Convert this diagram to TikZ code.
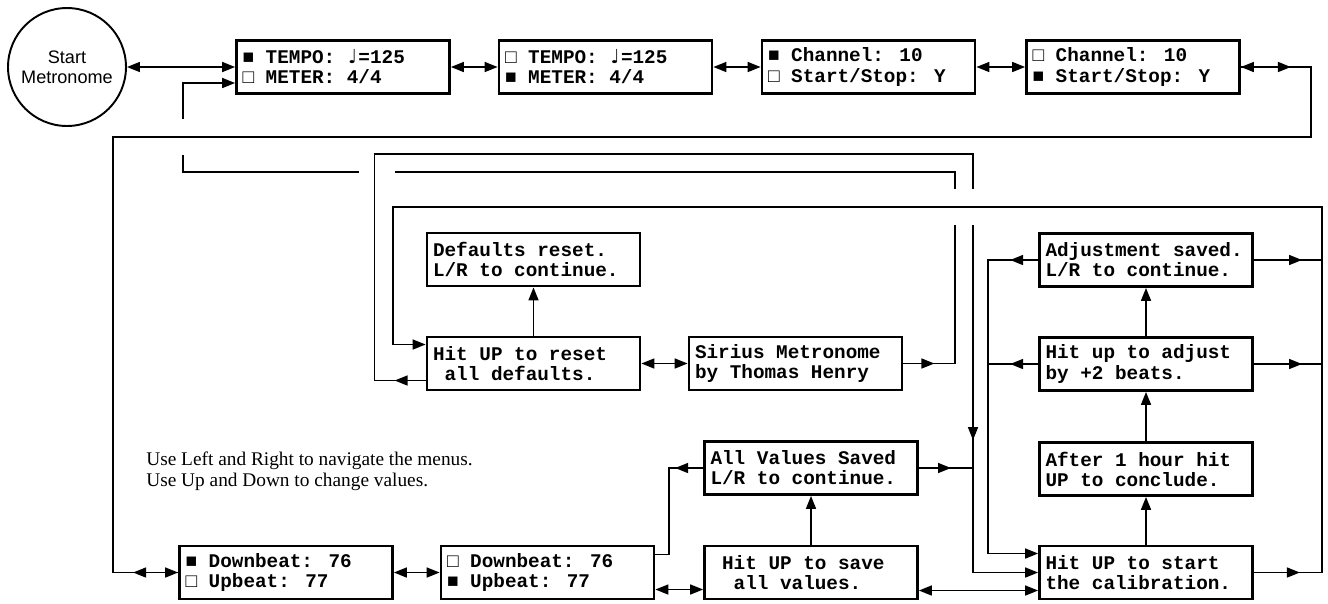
\documentclass[tikz,border=0pt]{standalone}
\usepackage{fontspec}
\setmainfont{Liberation Serif}
\newfontfamily\lcdfont{Liberation Mono}
\newfontfamily\circfont{Liberation Sans}
\newfontfamily\musicfont{DejaVu Sans}
\usetikzlibrary{arrows.meta,positioning,calc,decorations.markings}

\newcommand{\qnote}{\makebox[0.6em]{\musicfont ♩}}

\begin{document}
\begin{tikzpicture}[
  x=0.02cm, y=-0.02cm,
  lcd/.style={draw, line width=1.6pt, minimum width=4.26cm,
    minimum height=1.06cm, text width=4.02cm, align=flush left,
    inner xsep=0pt, font=\lcdfont\bfseries\fontsize{11}{11.4}\selectfont},
  bubble/.style={draw, circle, line width=1.1pt, minimum size=2.36cm,
    inner sep=0pt, align=center,
    font=\circfont\fontsize{10.3}{11.4}\selectfont},
  hint/.style={inner sep=0pt, align=left,
    font=\fontsize{11}{11.4}\selectfont},
  wire/.style={line width=0.9pt},
  arrow/.style={wire, -{Triangle[length=2.6mm, width=2mm]}},
  dblarrow/.style={wire,
    {Triangle[length=2.6mm, width=2mm]}-{Triangle[length=2.6mm, width=2mm]}},
  tipat/.style={postaction={decorate}, decoration={markings,
    mark=at position #1 with {\arrow{Triangle[length=2.6mm, width=2mm]}}}},
  hop/.style={draw=white, line width=4pt}
]
\useasboundingbox (0,0) rectangle (1328,603);

\node[bubble] (metro) at (67,67) {Start\\Metronome};
\node[lcd] (tempo) at (343,67) {■ TEMPO: \qnote=125\\□ METER: 4/4};
\node[lcd] (meter) at (605.5,67) {□ TEMPO: \qnote=125\\■ METER: 4/4};
\node[lcd] (chan) at (868.5,67) {■ Channel: 10\\□ Start/Stop: Y};
\node[lcd] (stst) at (1133,67) {□ Channel: 10\\■ Start/Stop: Y};

\node[lcd] (dflt) at (533.5,259.5) {Defaults reset.\\L/R to continue.};
\node[lcd] (reset) at (533.5,363.5) {Hit UP to reset\\~all defaults.};
\node[lcd] (sirius) at (795.5,363.5) {Sirius Metronome\\by Thomas Henry};

\node[lcd] (adjsaved) at (1146,260) {Adjustment saved.\\L/R to continue.};
\node[lcd] (adjust) at (1146,364) {Hit up to adjust\\by +2 beats.};
\node[lcd] (hour) at (1146,469) {After 1 hour hit\\UP to conclude.};
\node[lcd] (calib) at (1146,572.5) {Hit UP to start\\the calibration.};

\node[lcd] (saved) at (811,468) {All Values Saved\\L/R to continue.};
\node[lcd] (save) at (811,572.5) {~Hit UP to save\\~~all values.};
\node[lcd] (down) at (286,572.5) {■ Downbeat: 76\\□ Upbeat: 77};
\node[lcd] (up) at (547.5,572.5) {□ Downbeat: 76\\■ Upbeat: 77};

\node[hint, anchor=north west] (help) at (146,452)
  {Use Left and Right to navigate the menus.\\Use Up and Down to change values.};

% top menu row
\draw[dblarrow] (metro.east) -- (tempo.west);
\foreach \a/\b in {tempo/meter, meter/chan, chan/stst}
  \draw[dblarrow] (\a) -- (\b);

\coordinate (busA) at (955,172);
\coordinate (busB) at (973,154);
\coordinate (busC) at (988,260);
\coordinate (busD) at (1322,207);

% Sirius back to the first menu
\draw[arrow, tipat=0.62cm] (sirius.east) -- (sirius.east -| busA)
  |- (183,172) |- ($(tempo.west)+(0,16)$);
\draw[hop] (183,119) -- (183,155);
\draw[hop] (359,172) -- (395,172);
\draw[hop] (955,189) -- (955,225);

% reset over the top to the calibration
\draw[arrow, tipat=0.62cm] ($(reset.west)+(0,17)$) -- ++(-51,0)
  |- (busB) |- (calib.west);
\draw[hop] (973,189) -- (973,225);
\draw[arrow] ($(busB |- saved.north)+(0,-30)$) -- (busB |- saved.north);

% save menu
\draw[wire, tipat=-0.44cm] (saved.east) -- (saved.east -| busB);
\draw[dblarrow] ($(save.east)+(0,18)$) -- ($(calib.west)+(0,18)$);
\draw[arrow] (save) -- (saved);
\draw[wire, tipat=0.56cm] (saved.west) -- ++(-34,0) |- ($(up.east)+(0,-18)$);
\draw[dblarrow] ($(up.east)+(0,17)$) -- ($(save.west)+(0,17)$);
\draw[dblarrow] (down) -- (up);

% last top menu down to the beats
\draw[wire] (stst.east) -- ++(70,0) |- (113,137) |- (down.west);
\draw[dblarrow] (stst.east) -- ++(50,0);
\draw[dblarrow] ($(down.west)+(-45,0)$) -- (down.west);

% calibration column
\draw[arrow, tipat=0.56cm] (adjsaved.west) -- (adjsaved.west -| busC)
  |- ($(calib.west)+(0,-19)$);
\draw[wire, tipat=0.56cm] (adjust.west) -- (adjust.west -| busC);
\foreach \a/\b in {calib/hour, hour/adjust, adjust/adjsaved}
  \draw[arrow] (\a) -- (\b);
\draw[wire, tipat=-0.4cm] (adjsaved.east) -- (adjsaved.east -| busD);
\draw[wire, tipat=-0.4cm] (adjust.east) -- (adjust.east -| busD);
\draw[arrow, tipat=0.92cm] (calib.east) -- (calib.east -| busD)
  |- (393,207) |- ($(reset.west)+(0,-19)$);

\draw[arrow] (reset) -- (dflt);
\draw[dblarrow] (reset) -- (sirius);

\end{tikzpicture}
\end{document}
